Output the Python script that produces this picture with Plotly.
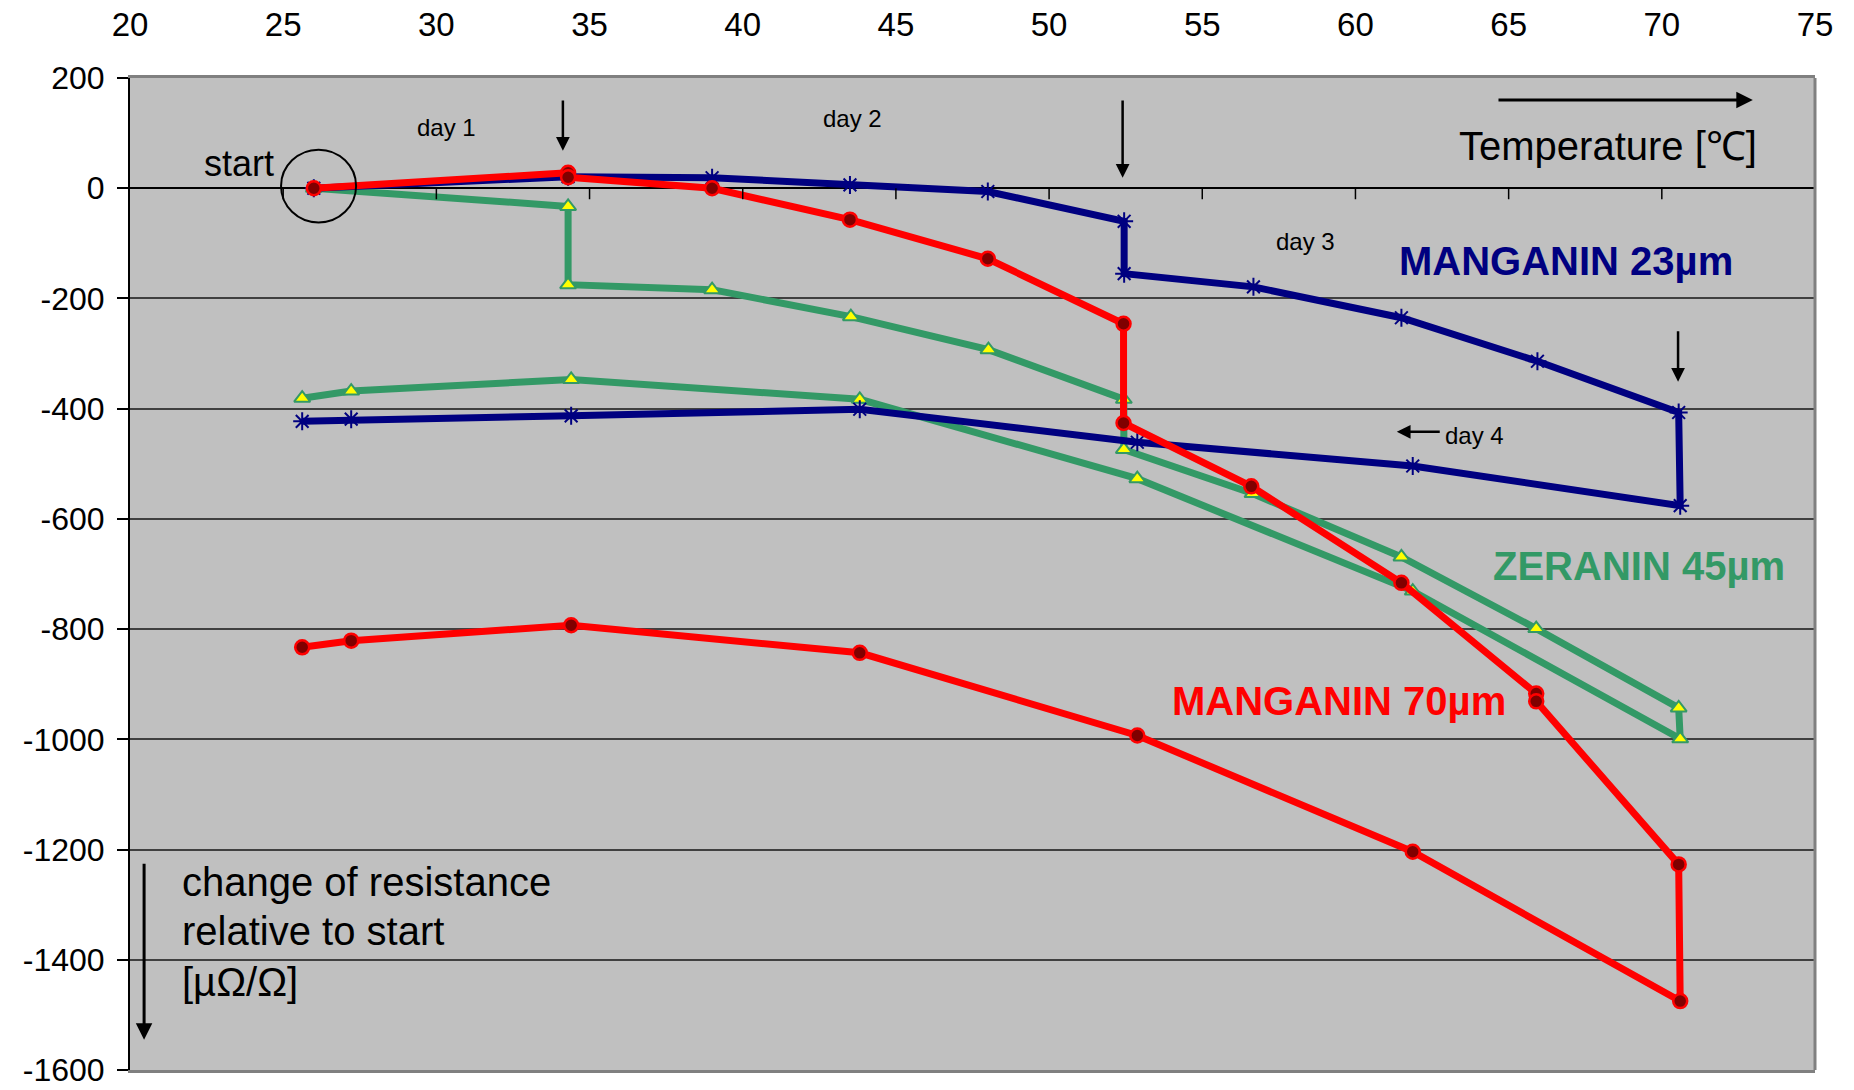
import plotly.graph_objects as go

# ---------------- data ----------------
manganin23_temp = [26.0, 34.3, 39.0, 43.5, 48.0, 52.45, 52.45, 56.67, 61.5, 65.94, 70.55,
                   70.6, 61.87, 52.88, 43.82, 34.4, 27.22, 25.62]
manganin23_dr = [0, 21, 19, 6, -6, -60, -155, -179, -235, -314, -407,
                 -576, -504, -461, -401, -413, -419, -423]

zeranin45_temp = [26.0, 34.3, 34.3, 39.0, 43.53, 48.02, 52.44, 52.44, 56.64, 61.5, 65.9, 70.55,
                  70.6, 61.87, 52.88, 43.82, 34.4, 27.22, 25.62]
zeranin45_dr = [0, -33, -175, -184, -233, -293, -383, -474, -554, -669, -799, -943,
                -999, -731, -527, -383, -347, -368, -381]

manganin70_temp = [26.0, 34.3, 34.3, 39.0, 43.5, 48.0, 52.43, 52.43, 56.6, 61.5, 65.9, 65.9, 70.55,
                   70.6, 61.87, 52.88, 43.82, 34.4, 27.22, 25.62]
manganin70_dr = [0, 28, 20, 0, -57, -128, -246, -426, -541, -716, -917, -931, -1227,
                 -1475, -1204, -993, -843, -793, -821, -833]

x_ticks = [20, 25, 30, 35, 40, 45, 50, 55, 60, 65, 70, 75]
x_tick_labels = ["20", "25", "30", "35", "40", "45", "50", "55", "60", "65", "70", "75"]
y_ticks = [200, 0, -200, -400, -600, -800, -1000, -1200, -1400, -1600]
y_tick_labels = ["200", "0", "-200", "-400", "-600", "-800", "-1000", "-1200", "-1400", "-1600"]

series_names = ["ZERANIN 45µm", "MANGANIN 23µm", "MANGANIN 70µm"]
y_title_lines = ["change of resistance", "relative to start", "[µΩ/Ω]"]

FONT = "Liberation Sans, Arial, sans-serif"
NAVY = "#000080"
GREEN = "#339966"
RED = "#FF0000"

fig = go.Figure()

fig.add_trace(go.Scatter(
    x=zeranin45_temp, y=zeranin45_dr, mode="lines+markers", name=series_names[0],
    line=dict(color=GREEN, width=7),
    marker=dict(symbol="triangle-up", size=14, color="#FFFF00", line=dict(color=GREEN, width=2)),
))
fig.add_trace(go.Scatter(
    x=manganin23_temp, y=manganin23_dr, mode="lines+markers", name=series_names[1],
    line=dict(color=NAVY, width=7),
    marker=dict(symbol="asterisk-open", size=15, color=NAVY, line=dict(color=NAVY, width=2)),
))
fig.add_trace(go.Scatter(
    x=manganin70_temp, y=manganin70_dr, mode="lines+markers", name=series_names[2],
    line=dict(color=RED, width=7),
    marker=dict(symbol="circle", size=14, color="#800000", line=dict(color=RED, width=2.5)),
))

shapes = []
# x tick marks hanging from the zero line
for tv in x_ticks[1:]:
    shapes.append(dict(type="line", xref="x", yref="y", x0=tv, x1=tv, y0=0, y1=-20,
                       line=dict(color="black", width=1.5)))
# right frame
shapes.append(dict(type="line", xref="paper", yref="paper", x0=1, x1=1, y0=0, y1=1,
                   line=dict(color="#808080", width=3)))
# circle around start
shapes.append(dict(type="circle", xref="x", yref="y", x0=24.93, x1=27.38, y0=-62, y1=70,
                   line=dict(color="black", width=2)))

annotations = []


def txt(x, y, text, size, color="black", bold=False, xanchor="center", align="center"):
    annotations.append(dict(x=x, y=y, xref="x", yref="y", text=("<b>%s</b>" % text) if bold else text,
                            showarrow=False, xanchor=xanchor, yanchor="middle", align=align,
                            font=dict(family=FONT, size=size, color=color)))


def arrow(x0, y0, x1, y1, width=2.5):
    annotations.append(dict(x=x1, y=y1, ax=x0, ay=y0, xref="x", yref="y", axref="x", ayref="y",
                            text="", showarrow=True, arrowhead=2, arrowsize=1.1,
                            arrowwidth=width, arrowcolor="black"))


txt(23.55, 44, "start", 36)
txt(30.34, 110, "day 1", 24)
txt(43.58, 127, "day 2", 24)
txt(58.36, -97, "day 3", 24)
txt(63.9, -448, "day 4", 24)
txt(73.17, 76, "Temperature [℃]", 40, xanchor="right")
txt(66.87, -132, "MANGANIN 23µm", 40, NAVY, bold=True)
txt(69.25, -686, "ZERANIN 45µm", 40, GREEN, bold=True)
txt(59.45, -931, "MANGANIN 70µm", 40, RED, bold=True)
for line_text, yv in zip(y_title_lines, [-1258, -1348, -1440]):
    txt(21.63, yv, line_text, 40, xanchor="left", align="left")

arrow(34.13, 162, 34.13, 68)
arrow(52.4, 162, 52.4, 19)
arrow(70.53, -257, 70.53, -351)
arrow(62.8, -442, 61.35, -442)
arrow(64.62, 160, 72.97, 160, width=3)
arrow(20.46, -1223, 20.46, -1545, width=3)

fig.update_layout(
    width=1854, height=1090,
    margin=dict(l=130, r=39, t=78, b=20, autoexpand=False),
    plot_bgcolor="#C0C0C0", paper_bgcolor="white",
    showlegend=False,
    font=dict(family=FONT, color="black"),
    shapes=shapes, annotations=annotations,
    xaxis=dict(range=[20, 75], side="top", tickvals=x_ticks, ticktext=x_tick_labels,
               ticks="", ticklabelstandoff=26, tickfont=dict(size=33), automargin=False,
               ticklabeloverflow="allow",
               showgrid=False, zeroline=False, showline=True, mirror=True,
               linecolor="#808080", linewidth=3),
    yaxis=dict(range=[-1600, 200], tickvals=y_ticks, ticktext=y_tick_labels,
               ticks="outside", ticklen=11, tickwidth=2, tickcolor="black",
               tickfont=dict(size=32), ticklabelstandoff=6, automargin=False,
               ticklabeloverflow="allow",
               showgrid=True, gridcolor="#404040", gridwidth=1.5,
               zeroline=True, zerolinecolor="black", zerolinewidth=2,
               showline=True, linecolor="black", linewidth=2),
)

fig.write_html("out.html", config={"displayModeBar": False},
               post_script="document.body.style.margin='0';document.body.style.overflow='hidden';")
